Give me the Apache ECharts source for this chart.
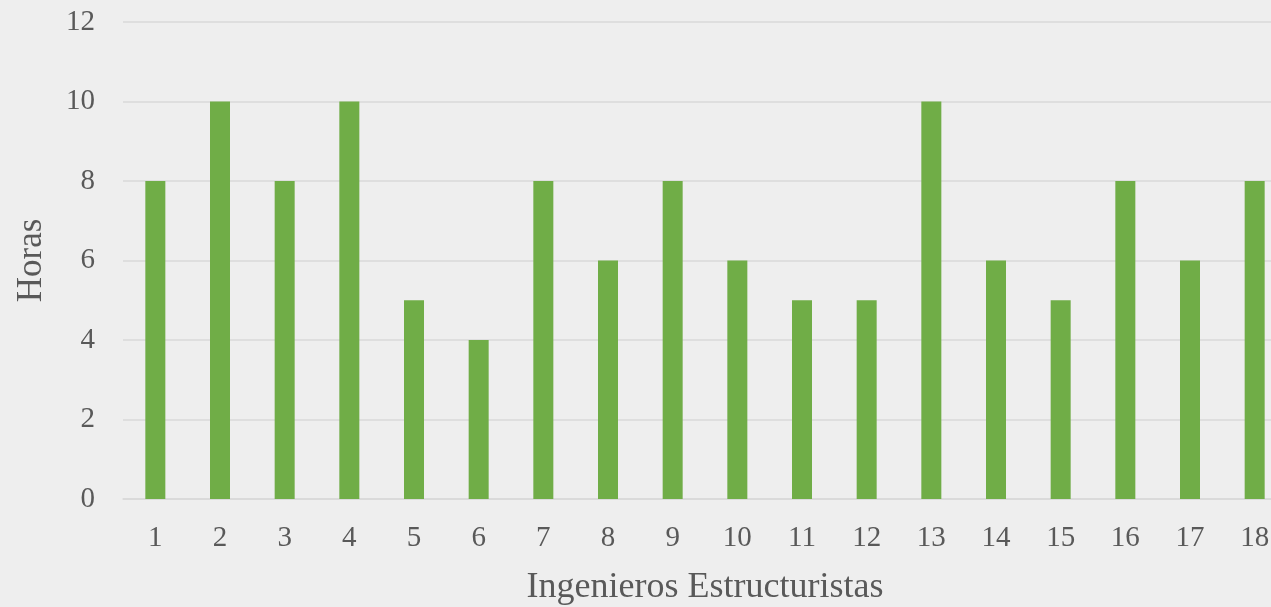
<!DOCTYPE html>
<html>
<head>
<meta charset="utf-8">
<script src="https://cdn.jsdelivr.net/npm/echarts@6/dist/echarts.min.js"></script>
<style>
html,body{margin:0;padding:0;background:#eeeeee;overflow:hidden;}
#c{width:1271px;height:607px;}
</style>
</head>
<body>
<div id="c"></div>
<script>
const categories = ['1','2','3','4','5','6','7','8','9','10','11','12','13','14','15','16','17','18'];
const horas = [8,10,8,10,5,4,8,6,8,6,5,5,10,6,5,8,6,8];
const xTitle = 'Ingenieros Estructuristas';
const yTitle = 'Horas';

const font = '"Liberation Serif","Times New Roman",serif';
const chart = echarts.init(document.getElementById('c'), null, {renderer:'canvas'});
chart.setOption({
  backgroundColor: '#eeeeee',
  animation: false,
  grid: { left: 123, top: 22, width: 1164, height: 477, containLabel: false, outerBoundsMode: 'none' },
  xAxis: {
    type: 'category',
    data: categories,
    name: xTitle,
    nameLocation: 'middle',
    nameGap: 71,
    nameTextStyle: { fontFamily: font, fontSize: 36, color: '#595959' },
    axisLine: { lineStyle: { color: '#d9d9d9', width: 1.5 } },
    axisTick: { show: false },
    axisLabel: { fontFamily: font, fontSize: 29, color: '#595959', margin: 25, hideOverlap: false }
  },
  yAxis: {
    type: 'value',
    min: 0, max: 12, interval: 2,
    name: yTitle,
    nameLocation: 'middle',
    nameGap: 74,
    nameTextStyle: { fontFamily: font, fontSize: 35, color: '#595959' },
    axisLine: { show: false },
    axisTick: { show: false },
    axisLabel: { fontFamily: font, fontSize: 29, color: '#595959', margin: 28 },
    splitLine: { lineStyle: { color: '#d9d9d9', width: 1.5 } }
  },
  series: [{
    type: 'bar',
    data: horas,
    barWidth: 20,
    itemStyle: { color: '#70ad47' }
  }]
});
</script>
</body>
</html>
